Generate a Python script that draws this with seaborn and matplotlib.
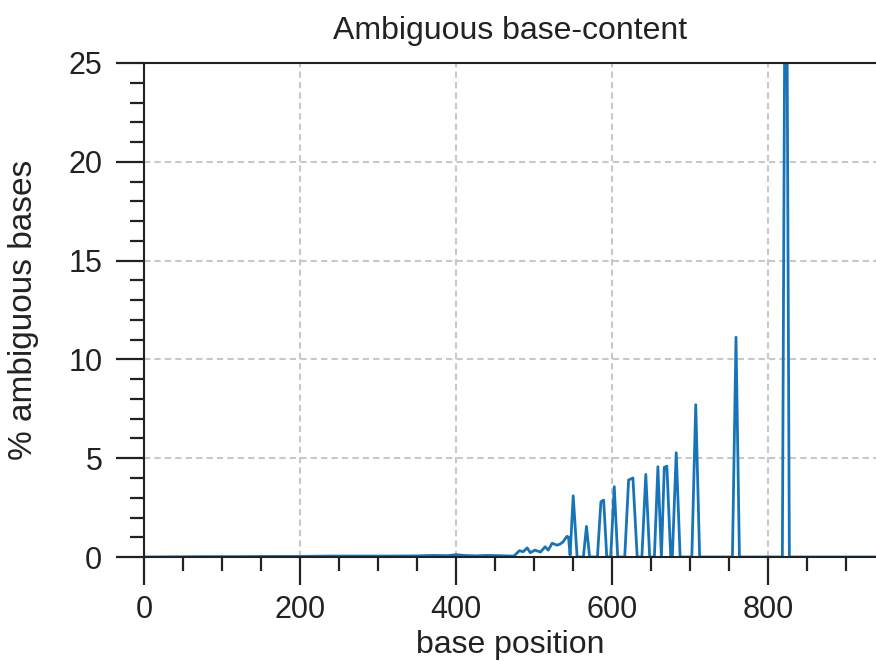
import matplotlib
matplotlib.use("Agg")
import matplotlib.pyplot as plt
from matplotlib.ticker import MultipleLocator
import seaborn as sns
import pandas as pd

# base position (x) and % ambiguous bases (y)
positions = [0, 40, 80, 120, 160, 200, 240, 280, 320, 350, 370, 390, 400, 410,
             425, 440, 455, 470, 474, 481, 486, 491, 495, 501, 508, 514, 518,
             523, 529, 533, 537, 542, 544, 546, 550, 555, 563, 567, 571, 581,
             585.5, 589, 593, 598, 602.6, 607, 616, 621, 626.5, 632, 638, 643,
             648, 654, 658.5, 663, 666.7, 670, 675, 677, 682, 687, 702, 707,
             712, 754, 758.6, 763, 818, 822.5, 827, 938]
ambiguous = [0.0, 0.01, 0.02, 0.02, 0.03, 0.03, 0.05, 0.05, 0.05, 0.06, 0.08,
             0.07, 0.12, 0.08, 0.06, 0.08, 0.07, 0.05, 0.05, 0.32, 0.27, 0.46,
             0.22, 0.35, 0.25, 0.52, 0.35, 0.70, 0.60, 0.65, 0.77, 1.05, 1.00,
             0.10, 3.10, 0.0, 0.0, 1.55, 0.0, 0.0, 2.80, 2.88, 0.0, 0.0, 3.56,
             0.0, 0.0, 3.90, 4.00, 0.0, 0.0, 4.18, 0.0, 0.0, 4.57, 0.0, 4.54,
             4.60, 0.0, 0.0, 5.28, 0.0, 0.0, 7.71, 0.0, 0.0, 11.12, 0.0, 0.0,
             40.0, 0.0, 0.0]

df = pd.DataFrame({"base position": positions, "% ambiguous bases": ambiguous})

sns.set_style("ticks")
plt.rcParams["font.family"] = ["Liberation Sans", "DejaVu Sans"]

fig = plt.figure(figsize=(8.76, 6.61), dpi=100)
ax = fig.add_axes([0.1644, 0.1573, 0.8356, 0.7474])

sns.lineplot(data=df, x="base position", y="% ambiguous bases", ax=ax,
             color="#1874b8", linewidth=2.0)

ax.set_xlim(0, 938)
ax.set_ylim(0, 25)
ax.xaxis.set_major_locator(MultipleLocator(200))
ax.xaxis.set_minor_locator(MultipleLocator(50))
ax.yaxis.set_major_locator(MultipleLocator(5))
ax.yaxis.set_minor_locator(MultipleLocator(1))

ax.grid(True, which="major", linestyle=(0, (3, 2)), color="#c8c8c8", linewidth=1.5)
ax.set_axisbelow(True)

for side in ["left", "bottom", "top"]:
    ax.spines[side].set_linewidth(1.5)
    ax.spines[side].set_color("#222222")
ax.spines["right"].set_visible(False)

ax.tick_params(which="major", direction="out", length=20, width=1.6,
               color="#222222", labelsize=22, labelcolor="#222222")
ax.tick_params(which="minor", direction="out", length=10, width=1.6, color="#222222")
ax.tick_params(axis="y", which="major", pad=10)
ax.tick_params(axis="x", which="major", pad=7)

ax.set_xlabel("base position", fontsize=23, color="#222222", labelpad=4)
ax.set_ylabel("% ambiguous bases", fontsize=24, color="#222222")
ax.yaxis.set_label_coords(-0.144, 0.5)
ax.set_title("Ambiguous base-content", fontsize=23, color="#222222", pad=17)

fig.savefig("out.png", dpi=100)
